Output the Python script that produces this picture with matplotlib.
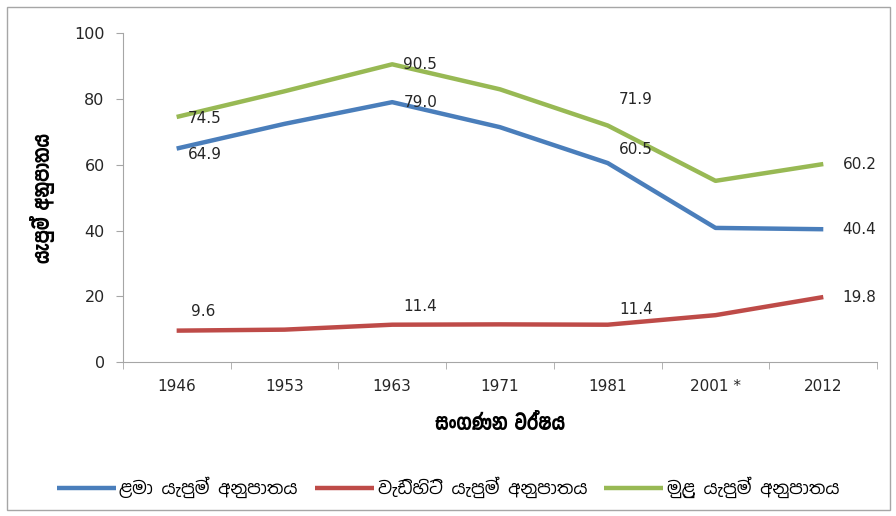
#!/usr/bin/env python3

"""Dependency ratios by census year (Sinhala labels)."""

import matplotlib as mpl
import matplotlib.pyplot as plt
from matplotlib.patches import Rectangle

mpl.use("Agg")

years = ["1946", "1953", "1963", "1971", "1981", "2001 *", "2012"]
child = [64.9, 72.4, 79.0, 71.4, 60.5, 40.8, 40.4]
old = [9.6, 9.9, 11.4, 11.5, 11.4, 14.3, 19.8]
total = [74.5, 82.3, 90.5, 82.9, 71.9, 55.1, 60.2]

series_names = [
    "ළමා යැපුම් අනුපාතය",
    "වැඩිහිටි යැපුම් අනුපාතය",
    "මුළු යැපුම් අනුපාතය",
]
ylabel = "යැපුම් අනුපාතය"
xlabel = "සංගණන වර්ෂය"

# which points carry a value label
labelled = [0, 2, 4, 6]

SINHALA = ["Noto Sans Sinhala", "DejaVu Sans"]
SINHALA_BOLD = ["Yaldevi Colombo", "Noto Sans Sinhala", "DejaVu Sans"]


def main():
    """Entry point."""
    plt.rcParams["font.family"] = SINHALA
    fig = plt.figure(figsize=(8.96, 5.16), dpi=100)
    fig.patches.append(
        Rectangle((0.008, 0.012), 0.985, 0.975, transform=fig.transFigure,
                  fill=False, edgecolor="#a6a6a6", linewidth=1.0)
    )
    ax = fig.add_axes([0.137, 0.298, 0.842, 0.638])

    colors = ["#4a7ebb", "#be4b48", "#98b954"]
    xs = range(len(years))
    for vals, name, color in zip([child, old, total], series_names, colors):
        ax.plot(xs, vals, color=color, linewidth=3.2, label=name,
                solid_capstyle="butt")

    # value labels, offsets in points
    offsets = {
        "child": [(8, -4), None, (8, 0), None, (8, 10), None, (14, 0)],
        "old": [(10, 14), None, (8, 13), None, (8, 11), None, (14, 0)],
        "total": [(8, -1), None, (8, 0), None, (8, 19), None, (14, 0)],
    }
    for key, vals in (("child", child), ("old", old), ("total", total)):
        for i in labelled:
            ax.annotate(f"{vals[i]:.1f}", (i, vals[i]),
                        xytext=offsets[key][i], textcoords="offset points",
                        ha="left", va="center", fontsize=11,
                        color="#262626", family="DejaVu Sans")

    ax.set_xlim(-0.5, len(years) - 0.5)
    ax.set_ylim(0, 100)
    ax.set_yticks(range(0, 101, 20))
    ax.set_xticks(list(xs))
    ax.set_xticklabels(years, family="DejaVu Sans")
    ax.set_xticks([i - 0.5 for i in range(len(years) + 1)], minor=True)
    ax.tick_params(axis="x", which="major", length=0, pad=12,
                   labelsize=11, labelcolor="#262626")
    ax.tick_params(axis="x", which="minor", length=5, color="#a6a6a6",
                   direction="out")
    ax.tick_params(axis="y", length=5, color="#a6a6a6", direction="out",
                   labelsize=11.5, labelcolor="#262626", pad=8)
    for lbl in ax.get_yticklabels():
        lbl.set_family("DejaVu Sans")

    for side in ("top", "right"):
        ax.spines[side].set_visible(False)
    for side in ("left", "bottom"):
        ax.spines[side].set_color("#a6a6a6")

    ax.set_ylabel(ylabel, fontsize=17, fontweight="bold", labelpad=14,
                  family=SINHALA_BOLD)
    ax.set_xlabel(xlabel, fontsize=17, fontweight="bold", labelpad=14,
                  family=SINHALA_BOLD)

    fig.legend(loc="center", bbox_to_anchor=(0.5, 0.056), ncol=3,
               frameon=False, prop={"family": SINHALA, "size": 12.5},
               handlelength=3.4, handletextpad=0.2, columnspacing=1.0)

    fig.savefig("out.png", dpi=100)


if __name__ == "__main__":
    main()
